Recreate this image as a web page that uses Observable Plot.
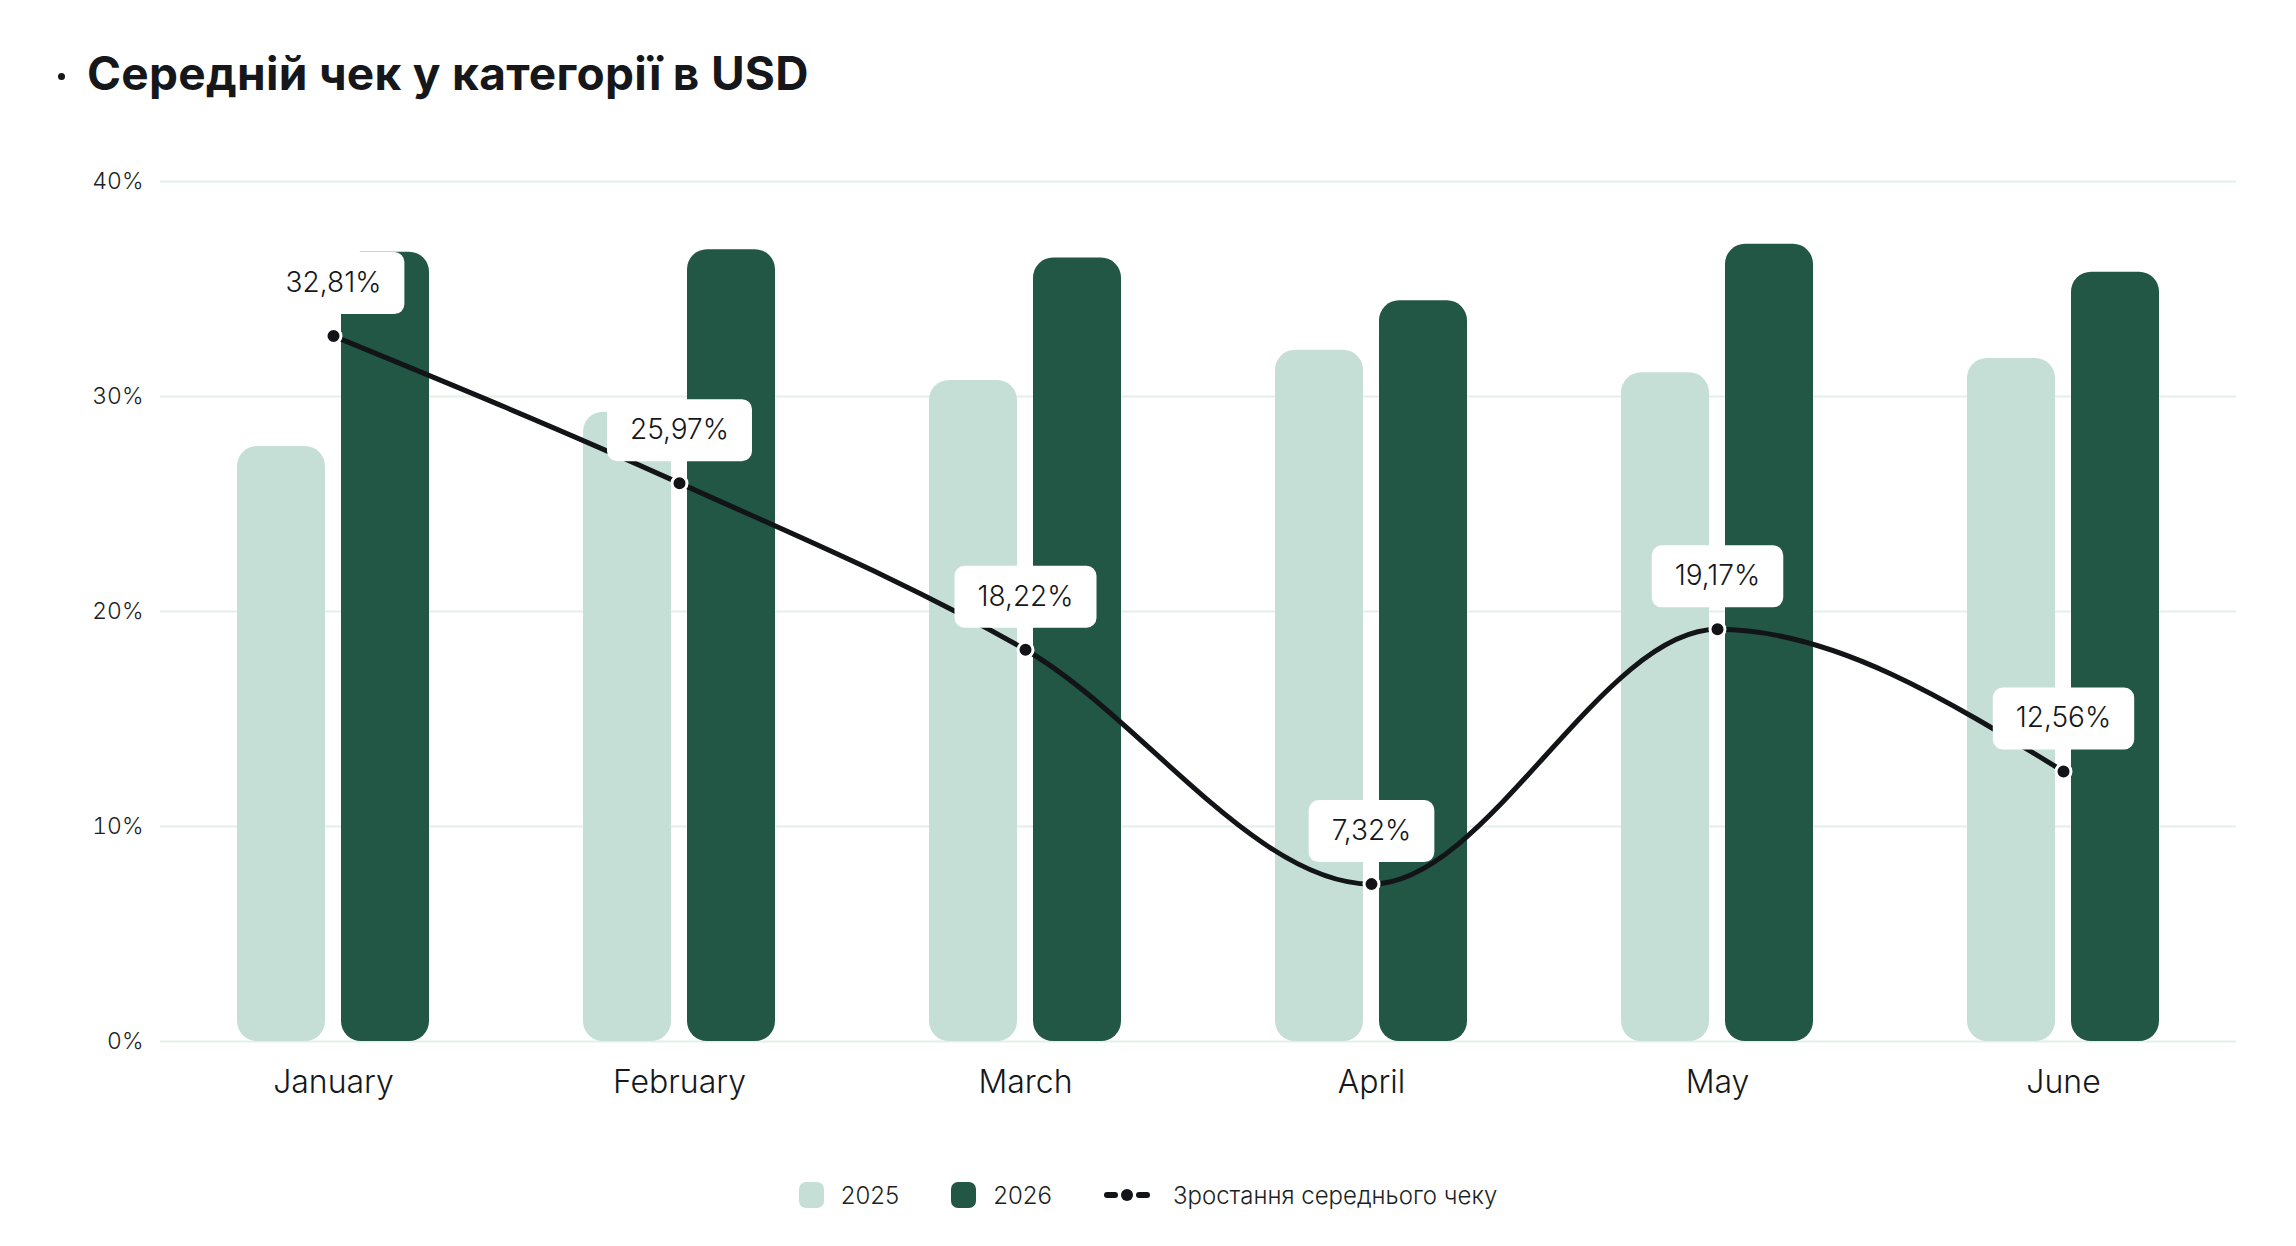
<!DOCTYPE html>
<html><head><meta charset="utf-8">
<script src="https://cdn.jsdelivr.net/npm/d3@7"></script>
<script src="https://cdn.jsdelivr.net/npm/@observablehq/plot@0.6"></script>
<style>
html,body{margin:0;padding:0;background:#fff;}
body{width:2296px;height:1246px;position:relative;overflow:hidden;font-family:Inter,"Open Sans",sans-serif;color:#15171a;}
#title{position:absolute;left:58px;top:50px;height:46px;line-height:46px;font-size:46px;font-weight:700;white-space:nowrap;display:flex;align-items:center;letter-spacing:0.3px;}
#title .bullet{display:inline-block;width:7px;height:7px;border-radius:50%;background:#15171a;margin-right:22px;margin-top:6px;}
#chart{position:absolute;left:0;top:120px;}
#legend{position:absolute;left:0;top:1180px;width:2296px;height:30px;display:flex;justify-content:center;align-items:center;font-size:24px;font-weight:300;color:#1d1f22;}
#legend .item{display:flex;align-items:center;margin:0 26px;}
#legend .sw{width:25px;height:26px;border-radius:7px;margin-right:17px;}
#legend svg{margin-right:23px;}
</style></head><body>
<div id="title"><span class="bullet"></span><span>Середній чек у категорії в USD</span></div>
<div id="chart"></div>
<div id="legend"></div>
<script>
const months = ["January", "February", "March", "April", "May", "June"];
const values2025 = [27.67, 29.27, 30.75, 32.15, 31.10, 31.77];
const values2026 = [36.71, 36.83, 36.44, 34.45, 37.08, 35.78];
const growth = [32.81, 25.97, 18.22, 7.32, 19.17, 12.56];
const yTicks = [0, 10, 20, 30, 40];
const seriesNames = ["2025", "2026"];
const lineName = "Зростання середнього чеку";

const colors = {c2025: "#c5dfd6", c2026: "#225645", line: "#121417", grid: "#e4f0e7", text: "#1d1f22"};

const rows = months.map((m, i) => ({month: m, v2025: values2025[i], v2026: values2026[i], growth: growth[i]}));
const fmt = v => d3.format(".2f")(v).replace(".", ",") + "%";

const labelFont = "300 28px Inter";
const cnv = document.createElement("canvas").getContext("2d");
cnv.font = labelFont;
const halfW = d => (cnv.measureText(fmt(d.growth)).width + 46) / 2;

const boxSymbol = {
  draw(ctx, size) {
    const w = Math.sqrt(size / Math.PI), h = 31, c = 10;
    ctx.moveTo(-w + c, -h);
    ctx.lineTo(w - c, -h);
    ctx.arcTo(w, -h, w, -h + c, c);
    ctx.lineTo(w, h - c);
    ctx.arcTo(w, h, w - c, h, c);
    ctx.lineTo(-w + c, h);
    ctx.arcTo(-w, h, -w, h - c, c);
    ctx.lineTo(-w, -h + c);
    ctx.arcTo(-w, -h, -w + c, -h, c);
    ctx.closePath();
  }
};

const chart = Plot.plot({
  width: 2296,
  height: 1000,
  marginLeft: 160,
  marginRight: 60,
  marginTop: 61,
  marginBottom: 79,
  style: {fontFamily: "Inter, 'Open Sans', sans-serif", background: "transparent", overflow: "visible"},
  x: {domain: months, padding: 0},
  y: {domain: [0, 40]},
  r: {type: "identity"},
  marks: [
    Plot.gridY(yTicks, {stroke: colors.grid, strokeOpacity: 1, strokeWidth: 2}),
    Plot.axisY(yTicks, {tickSize: 0, tickPadding: 17, fontSize: 23, fontWeight: 300, fill: colors.text, tickFormat: d => d + "%", label: null}),
    Plot.axisX({tickSize: 0, tickPadding: 29, fontSize: 32, fontWeight: 300, fill: "#15171a", label: null}),
    Plot.barY(rows, {x: "month", y: "v2025", fill: colors.c2025, insetLeft: 77, insetRight: 181, rx: 20}),
    Plot.barY(rows, {x: "month", y: "v2026", fill: colors.c2026, insetLeft: 181, insetRight: 77, rx: 20}),
    Plot.line(rows, {x: "month", y: "growth", curve: "monotone-x", stroke: colors.line, strokeWidth: 5}),
    Plot.dot(rows, {x: "month", y: "growth", r: halfW, symbol: boxSymbol, fill: "#fff", stroke: "none", dy: -53, ariaLabel: "label-box"}),
    Plot.text(rows, {x: "month", y: "growth", text: d => fmt(d.growth), dy: -53, fontSize: 28, fontWeight: 300, fill: "#15171a"}),
    Plot.dot(rows, {x: "month", y: "growth", r: 7.5, fill: colors.line, stroke: "#fff", strokeWidth: 3})
  ]
});
document.getElementById("chart").append(chart);
d3.select(chart).selectAll('g[aria-label="label-box"]').style("filter", "drop-shadow(0px 10px 10px rgba(30,40,50,0.13))");

const legend = d3.select("#legend");
[[seriesNames[0], colors.c2025], [seriesNames[1], colors.c2026]].forEach(([name, c]) => {
  const it = legend.append("div").attr("class", "item");
  it.append("span").attr("class", "sw").style("background", c);
  it.append("span").text(name);
});
const li = legend.append("div").attr("class", "item");
const ls = li.append("svg").attr("width", 46).attr("height", 20);
ls.append("line").attr("x1", 3).attr("x2", 11).attr("y1", 10).attr("y2", 10).attr("stroke", colors.line).attr("stroke-width", 6).attr("stroke-linecap", "round");
ls.append("line").attr("x1", 35).attr("x2", 43).attr("y1", 10).attr("y2", 10).attr("stroke", colors.line).attr("stroke-width", 6).attr("stroke-linecap", "round");
ls.append("circle").attr("cx", 23).attr("cy", 10).attr("r", 6).attr("fill", colors.line);
li.append("span").text(lineName);
</script>
</body></html>
